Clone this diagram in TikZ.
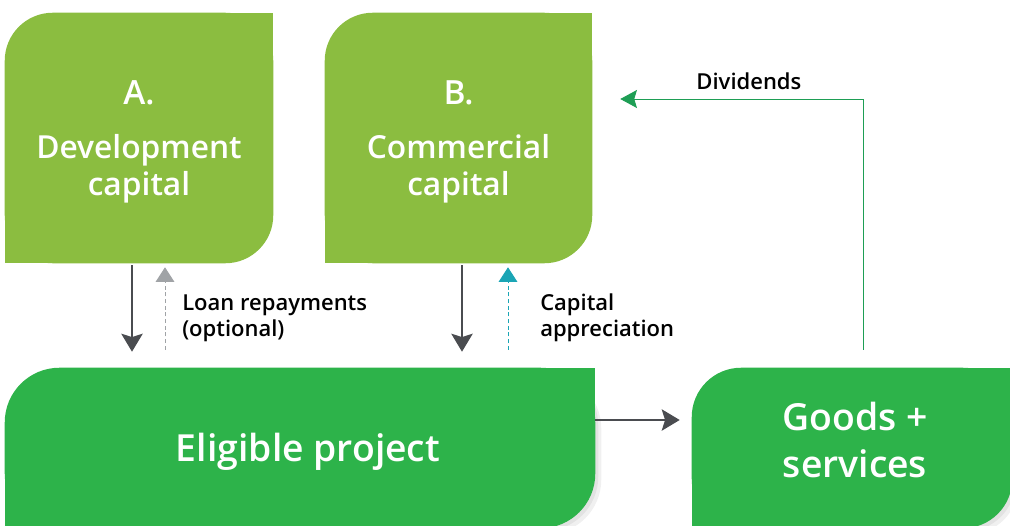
\documentclass[tikz,border=0pt]{standalone}
\usepackage{fontspec}
\setmainfont{Open Sans}
\newfontfamily\semifont{Open Sans Semibold}
\usepackage{tikz}
\usetikzlibrary{arrows.meta, positioning, calc, backgrounds}
\definecolor{leafgreen}{HTML}{8BBD40}
\definecolor{projgreen}{HTML}{2DB34A}
\definecolor{arrowgrey}{HTML}{4A4C50}
\definecolor{dashgrey}{HTML}{A0A3A6}
\definecolor{tealblue}{HTML}{1AA5B5}
\definecolor{divgreen}{HTML}{1E9E55}
\tikzstyle{leaf} = [rectangle, inner sep=0pt, draw=none]
\tikzstyle{boxtitle} = [text=white, font=\semifont\fontsize{25}{30}\selectfont]
\tikzstyle{boxtext} = [text=white, align=center, font=\semifont\fontsize{23.8}{27.75}\selectfont]
\tikzstyle{bigtext} = [text=white, align=center, font=\semifont\fontsize{28}{35}\selectfont]
\tikzstyle{flowlabel} = [align=left, inner sep=0pt, font=\semifont\fontsize{16.5}{19.5}\selectfont]
\tikzstyle{arrow} = [line width=1.5pt, draw=arrowgrey, -{Stealth[length=13.5pt, width=16pt, inset=2.5pt]}]
\tikzstyle{returnarrow} = [line width=0.75pt, dash pattern=on 3pt off 2pt, -{Triangle[length=11pt, width=14pt]}]
\tikzstyle{divarrow} = [line width=0.75pt, draw=divgreen, -{Stealth[length=12.5pt, width=13.5pt, inset=2pt]}]
% leaf shape: rounded top left and bottom right
\newcommand{\leafbox}[3]{%
    \fill[#2, rounded corners=#3] (#1.south west) rectangle (#1.north east);
    \fill[#2] (#1.north) rectangle (#1.east);
    \fill[#2] (#1.west) rectangle (#1.south);
}
\newcommand{\leafshadow}[3]{%
    \fill[black, opacity=0.06, rounded corners=#3] ($(#1.south west)+(#2,#2)$) rectangle ($(#1.north east)+(#2,#2)$);
}

\begin{document}
\begin{tikzpicture}[x=0.75pt, y=-0.75pt]
    \useasboundingbox (0,0) rectangle (1010,525);

    % Capital boxes
    \node (devcap) [leaf, minimum width=201pt, minimum height=187.5pt] at (139,138) {};
    \node (devcapA) at (139,93) [boxtitle] {A.};
    \node (devcaptext) at (139,169) [boxtext] {Development\\capital};

    \node (comcap) [leaf, minimum width=200.25pt, minimum height=187.5pt] at (458.5,138) {};
    \node (comcapB) at (458.5,93) [boxtitle] {B.};
    \node (comcaptext) at (458.5,169) [boxtext] {Commercial\\capital};

    % Project and output
    \node (project) [leaf, minimum width=442.5pt, minimum height=120pt] at (300,448) {};
    \node (projecttext) at (308,452) [bigtext] {Eligible project};

    \node (goods) [leaf, minimum width=240pt, minimum height=120pt] at (852,448) {};
    \node (goodstext) at (855,440) [bigtext] {Goods +\\services};

    \begin{scope}[on background layer]
        \leafshadow{project}{3}{41pt}
        \leafshadow{project}{6}{41pt}
        \leafshadow{goods}{3}{37pt}
        \leafshadow{goods}{6}{37pt}
        \leafbox{devcap}{leafgreen}{36pt}
        \leafbox{comcap}{leafgreen}{36pt}
        \leafbox{project}{projgreen}{41pt}
        \leafbox{goods}{projgreen}{37pt}
    \end{scope}

    % Flows
    \draw [arrow] ($(devcap.south)+(-7,2)$) -- ($(devcap.south |- project.north)+(-7,-16)$);
    \draw [returnarrow, draw=dashgrey, -{Triangle[length=11pt, width=14pt, fill=dashgrey]}] ($(devcap.south |- project.north)+(26,-18)$) -- ($(devcap.south)+(26,4)$);
    \node (loanlabel) at (182,318) [flowlabel, anchor=west] {Loan repayments\\(optional)};

    \draw [arrow] ($(comcap.south)+(3.5,2)$) -- ($(comcap.south |- project.north)+(3.5,-16)$);
    \draw [returnarrow, draw=tealblue, -{Triangle[length=11pt, width=14pt, fill=tealblue]}] ($(comcap.south |- project.north)+(49.5,-18)$) -- ($(comcap.south)+(49.5,4)$);
    \node (applabel) at (540,318) [flowlabel, anchor=west] {Capital\\appreciation};

    \draw [arrow] (project.east |- 0,420) -- ($(goods.west |- 0,420)+(-12,0)$);

    \coordinate (divtip) at ($(comcap.east)+(28,-39)$);
    \draw [divarrow] ($(goods.north)+(11,-18)$) |- node[pos=0.735, above=6.5pt, flowlabel] (divlabel) {Dividends} (divtip);
\end{tikzpicture}
\end{document}
